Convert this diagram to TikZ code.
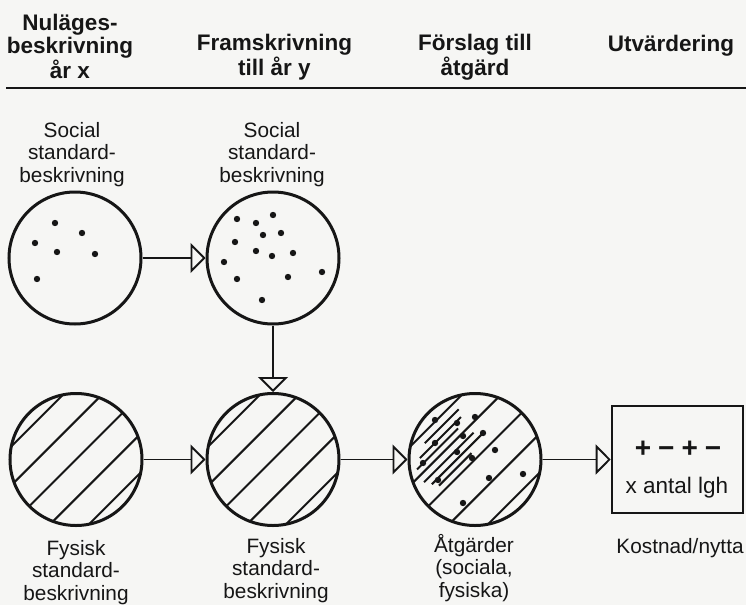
\documentclass[tikz,border=0pt]{standalone}
\usepackage{fontspec}
\setmainfont{Liberation Sans}
\usetikzlibrary{arrows.meta}
\definecolor{paper}{RGB}{246,246,244}
\definecolor{ink}{RGB}{22,22,22}
\begin{document}
\begin{tikzpicture}[x=1pt,y=-1pt,
  disc/.style={circle, draw=ink, line width=3pt, minimum size=132pt, inner sep=0pt},
  hatch/.style={draw=ink, line width=2pt},
  flow/.style={draw=ink, line width=1.9pt, -{Triangle[open, length=15pt, width=30pt]}},
  head/.style={font=\bfseries\fontsize{22.5}{23}\selectfont, align=center, text=ink, anchor=base, inner sep=0pt},
  lbl/.style={font=\fontsize{20.8}{22.5}\selectfont, align=center, text=ink, anchor=base, inner sep=0pt},
  dotf/.style={fill=ink}
]
% page
\fill[paper] (0,0) rectangle (746,605);
\useasboundingbox (0,0) rectangle (746,605);

% column headings and rule (node base = baseline of the last line)
\node[head] (h1) at (70,78) {Nuläges-\\beskrivning\\år x};
\node[head] (h2) at (274.5,75) {Framskrivning\\till år y};
\node[head] (h3) at (475,75) {Förslag till\\åtgärd};
\node[head] (h4) at (671,51) {Utvärdering};
\draw[ink, line width=2.5pt] (6,88) -- (746,88);

% centres of the five discs
\coordinate (o1) at (75,258);
\coordinate (o2) at (273,258);
\coordinate (o4) at (76,459.5);
\coordinate (o5) at (273,459.5);
\coordinate (o6) at (475,459.5);

% hatching of the physical discs
\foreach \o in {o4,o5,o6}{
  \begin{scope}
    \clip (\o) circle (65);
    \begin{scope}[shift={(\o)}]
      \foreach \d in {-55,-27.5,0,27.5,55}
        \draw[hatch] ({(\d-90)/1.4142},{(\d+90)/1.4142}) -- ({(\d+90)/1.4142},{(\d-90)/1.4142});
    \end{scope}
  \end{scope}
}
% denser hatching where measures are combined
\begin{scope}
  \clip (o6) circle (65);
  \begin{scope}[shift={(o6)}]
    \foreach \d/\a/\b in {-47/-24/24, -40/-38/20, -34/-48/10, -20/-52/18, -13/-48/26, -7/-44/2}
      \draw[hatch] ({(\d+\a)/1.4142},{(\d-\a)/1.4142}) -- ({(\d+\b)/1.4142},{(\d-\b)/1.4142});
  \end{scope}
\end{scope}

% discs
\node[disc] (c1) at (o1) {};
\node[disc] (c2) at (o2) {};
\node[disc] (c4) at (o4) {};
\node[disc] (c5) at (o5) {};
\node[disc] (c6) at (o6) {};

% households (dots)
\foreach \p in {(55,223),(82,233),(35,243),(57,252),(95,254),(37,279)}
  \fill[dotf] \p circle (3.2);
\foreach \p in {(237,219),(256,223),(273,215),(263,235),(281,233),(235,242),(256,251),
                (272,256),(293,253),(224,262),(322,272),(237,279),(288,277),(262,300)}
  \fill[dotf] \p circle (3.2);
\foreach \p in {(435,420),(457,423),(475,417),(435,443),(463,436),(483,433),(423,463),
                (457,452),(472,458),(495,450),(438,480),(523,474),(489,478),(463,503)}
  \fill[dotf] \p circle (3.2);

% evaluation box
\node[draw=ink, line width=2.6pt, minimum width=131pt, minimum height=107pt, inner sep=0pt] (box) at (677.5,459.5) {};
\node[font=\bfseries\fontsize{28}{28}\selectfont, text=ink, anchor=base, inner sep=0pt] (pm) at (678,457)
  {+\hspace{7pt}−\hspace{7pt}+\hspace{7pt}−};
\node[font=\fontsize{22.5}{24}\selectfont, text=ink, anchor=base, inner sep=0pt] (lgh) at (677,493) {x antal lgh};

% connectors
\draw[flow] (c1.east) -- (c2.west);
\draw[flow] (c2.south) -- (c5.north);
\draw[flow] (c4.east) -- (c5.west);
\draw[flow] (c5.east) -- (c6.west);
\draw[flow] (c6.east) -- (box.west);

% labels
\node[lbl] (l1) at (72,182) {Social\\standard-\\beskrivning};
\node[lbl] (l2) at (272,182) {Social\\standard-\\beskrivning};
\node[lbl] (l4) at (76,600) {Fysisk\\standard-\\beskrivning};
\node[lbl] (l5) at (276,598) {Fysisk\\standard-\\beskrivning};
\node[lbl] (l6) at (474,597) {Åtgärder\\(sociala,\\fysiska)};
\node[lbl] (l7) at (680,553) {Kostnad/nytta};
\end{tikzpicture}
\end{document}
